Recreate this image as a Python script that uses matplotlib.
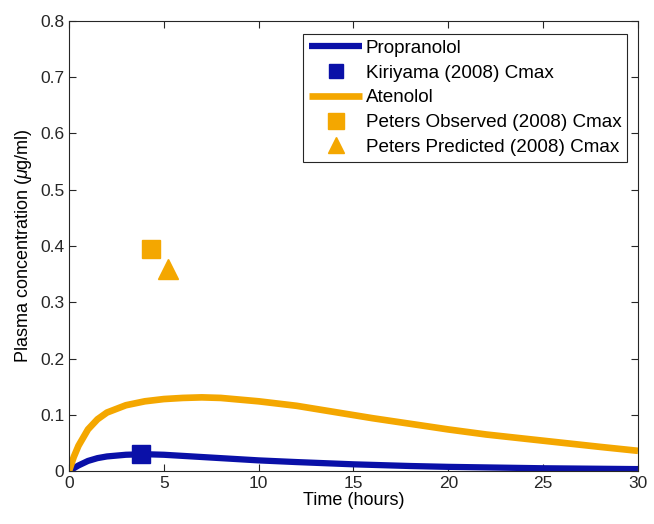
import matplotlib.pyplot as plt

plt.rcParams['font.family'] = ['Liberation Sans', 'DejaVu Sans']
plt.rcParams['mathtext.fontset'] = 'custom'
plt.rcParams['mathtext.it'] = 'Liberation Sans:italic'
plt.rcParams['mathtext.rm'] = 'Liberation Sans'

# model curves
t_aten = [0, 0.25, 0.5, 1, 1.5, 2, 3, 4, 5, 6, 7, 8, 10, 12, 14, 16, 18, 20, 22, 25, 28, 30]
c_aten = [0, 0.025, 0.045, 0.074, 0.092, 0.104, 0.117, 0.124, 0.128, 0.130, 0.131, 0.130,
          0.124, 0.116, 0.105, 0.094, 0.084, 0.074, 0.065, 0.054, 0.043, 0.036]
t_prop = [0, 0.25, 0.5, 1, 1.5, 2, 3, 4, 5, 7, 10, 12, 15, 18, 20, 25, 30]
c_prop = [0, 0.005, 0.010, 0.018, 0.023, 0.026, 0.029, 0.030, 0.029, 0.025, 0.019, 0.016,
          0.012, 0.009, 0.0075, 0.005, 0.0035]

# observed / predicted Cmax points
kiri_t, kiri_c = [3.8], [0.030]
obs_t, obs_c = [4.3], [0.395]
pred_t, pred_c = [5.2], [0.36]

blue = '#0a10a8'
orange = '#f4a700'

fig = plt.figure(figsize=(6.54, 5.24), dpi=100)
ax = fig.add_axes([0.1055, 0.101, 0.87, 0.859])

ax.plot(t_prop, c_prop, color=blue, lw=4.5, label='Propranolol', solid_capstyle='butt')
ax.plot(kiri_t, kiri_c, 's', color=blue, ms=12.5, label='Kiriyama (2008) Cmax')
ax.plot(t_aten, c_aten, color=orange, lw=4.8, label='Atenolol', solid_capstyle='butt')
ax.plot(obs_t, obs_c, 's', color=orange, ms=13, label='Peters Observed (2008) Cmax')
ax.plot(pred_t, pred_c, '^', color=orange, ms=14, label='Peters Predicted (2008) Cmax')

ax.set_xlim(0, 30)
ax.set_ylim(0, 0.8)
ax.set_xticks([0, 5, 10, 15, 20, 25, 30])
ax.set_yticks([0, 0.1, 0.2, 0.3, 0.4, 0.5, 0.6, 0.7, 0.8])
ax.set_yticklabels(['0', '0.1', '0.2', '0.3', '0.4', '0.5', '0.6', '0.7', '0.8'])
ax.tick_params(direction='in', top=True, right=True, labelsize=12.5, length=5, colors='#262626')
for s in ax.spines.values():
    s.set_color('#262626')
ax.set_xlabel('Time (hours)', fontsize=13, labelpad=1)
ax.set_ylabel(r'Plasma concentration ($\mu$g/ml)', fontsize=13, labelpad=4)

leg = ax.legend(loc='upper right', bbox_to_anchor=(0.981, 0.971), fontsize=13.6,
                frameon=True, fancybox=False, edgecolor='#262626', framealpha=1,
                handlelength=2.8, handletextpad=0.2, borderpad=0.3, labelspacing=0.4,
                borderaxespad=0, markerscale=0.85)
leg.get_frame().set_linewidth(0.8)

fig.savefig('out.png', dpi=100)
